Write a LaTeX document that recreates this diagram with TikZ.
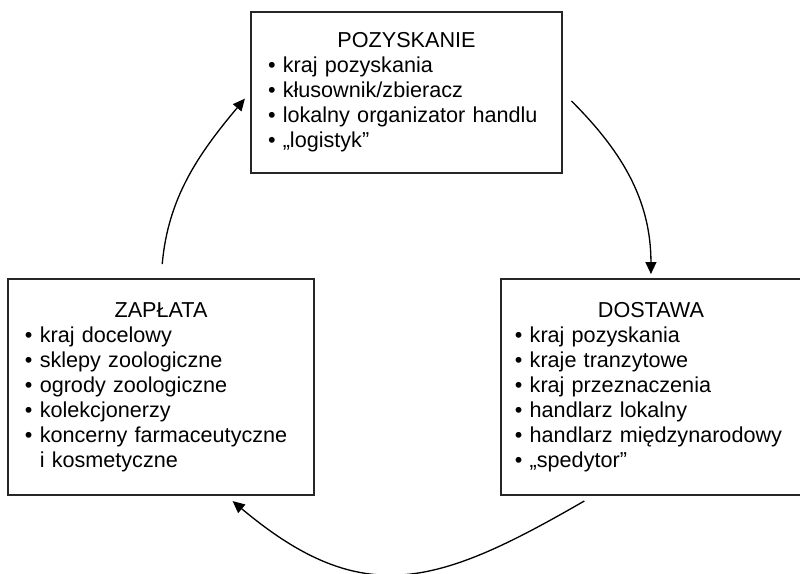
\documentclass[tikz,border=0pt]{standalone}
\usepackage{fontspec}
\setmainfont{Liberation Sans}
\usetikzlibrary{arrows.meta,positioning}
\newcommand{\itm}{\textbullet\ }

\begin{document}
\begin{tikzpicture}[
  font=\fontsize{12.3}{14.2}\selectfont,
  box/.style={draw=black!85, line width=1.1pt, inner xsep=0.34cm, inner ysep=0.2cm},
  arr/.style={-{Triangle[length=0.24cm,width=0.22cm]}, line width=0.75pt},
  node distance=3.7cm
]
\useasboundingbox (0,0) rectangle (16,11.46);
\node[box, text width=5.54cm, minimum height=3.22cm] (pozysk) at (8.13,9.61) {\centering POZYSKANIE\par\raggedright
  \itm kraj pozyskania\\ \itm kłusownik/zbieracz\\ \itm lokalny organizator handlu\\ \itm „logistyk”};
\node[box, text width=5.44cm, minimum height=4.32cm] (zaplata) at (3.22,3.72) {\centering ZAPŁATA\par\raggedright
  \itm kraj docelowy\\ \itm sklepy zoologiczne\\ \itm ogrody zoologiczne\\ \itm kolekcjonerzy\\
  \itm \mbox{koncerny farmaceutyczne}\\ \phantom{\itm}i kosmetyczne};
\node[box, inner xsep=0.28cm, text width=5.44cm, minimum height=4.32cm, right=of zaplata] (dostawa) {\centering DOSTAWA\par\raggedright
  \itm kraj pozyskania\\ \itm kraje tranzytowe\\ \itm kraj przeznaczenia\\ \itm handlarz lokalny\\
  \itm \mbox{handlarz międzynarodowy}\\ \itm „spedytor”};
\draw[arr, shorten <=0.24cm, shorten >=0.08cm] (pozysk.east) to[out=-45,in=90] (dostawa.north);
\draw[arr, shorten <=0.2cm, shorten >=0.16cm] (dostawa.-118) to[out=-150,in=-40,looseness=1.25] (zaplata.-59);
\draw[arr, shorten <=0.28cm, shorten >=0.16cm] (zaplata.north) to[out=85,in=230] (pozysk.west);
\end{tikzpicture}
\end{document}
